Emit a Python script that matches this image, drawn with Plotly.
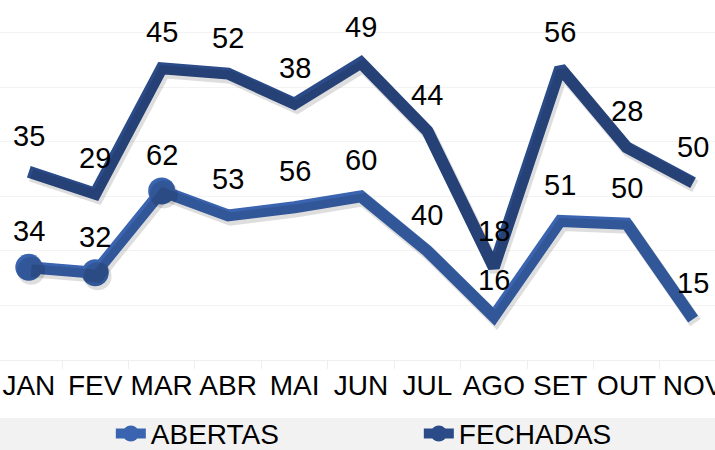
import numpy as np
import plotly.graph_objects as go

meses = ["JAN", "FEV", "MAR", "ABR", "MAI", "JUN", "JUL", "AGO", "SET", "OUT", "NOV"]
abertas = [34, 32, 62, 53, 56, 60, 40, 16, 51, 50, 15]
fechadas = [35, 29, 45, 52, 38, 49, 44, 18, 56, 28, 50]

COR_ABERTAS = "#3A64AF"
COR_FECHADAS = "#2B4B88"
SOMBRA = "rgba(0,0,0,0.13)"
FONT = "Liberation Sans, Arial, sans-serif"

# stacked positions (the chart is a stacked line chart)
topo_abertas = np.array(abertas)
topo_fechadas = topo_abertas + np.array(fechadas)

tam_marc = [27, 27, 27] + [0] * (len(meses) - 3)

XR = [-0.434, 10.33]
YR = [0, 132]
# shadow axes: same data, view shifted a few pixels down/right
XR2 = [XR[0] - 0.035, XR[1] - 0.035]
YR2 = [YR[0] + 1.3, YR[1] + 1.3]

fig = go.Figure()

# soft drop shadows
fig.add_trace(go.Scatter(
    x=meses, y=abertas, stackgroup="sh", fill="none", mode="lines+markers",
    line=dict(color=SOMBRA, width=13),
    marker=dict(color=SOMBRA, opacity=1, size=[s + 1 if s else 0 for s in tam_marc],
                line=dict(width=0)),
    xaxis="x2", yaxis="y2", showlegend=False, hoverinfo="skip",
))
fig.add_trace(go.Scatter(
    x=meses, y=fechadas, stackgroup="sh", fill="none", mode="lines",
    line=dict(color=SOMBRA, width=13),
    xaxis="x2", yaxis="y2", showlegend=False, hoverinfo="skip",
))

fig.add_trace(go.Scatter(
    x=meses, y=abertas, name="ABERTAS", stackgroup="s", fill="none",
    mode="lines+markers",
    line=dict(color=COR_ABERTAS, width=12),
    marker=dict(color=COR_ABERTAS, opacity=1, size=tam_marc, line=dict(width=0)),
    showlegend=False, hoverinfo="skip",
))
fig.add_trace(go.Scatter(
    x=meses, y=fechadas, name="FECHADAS", stackgroup="s", fill="none",
    mode="lines",
    line=dict(color=COR_FECHADAS, width=12),
    showlegend=False, hoverinfo="skip",
))

# legend entries
for nome, cor in [("ABERTAS", COR_ABERTAS), ("FECHADAS", COR_FECHADAS)]:
    fig.add_trace(go.Scatter(
        x=[None], y=[None], name=nome, mode="lines+markers",
        line=dict(color=cor, width=10),
        marker=dict(color=cor, size=16, opacity=1, line=dict(width=0)),
    ))

annotations = []
for serie, topo in [(abertas, topo_abertas), (fechadas, topo_fechadas)]:
    for m, v, t in zip(meses, serie, topo):
        annotations.append(dict(
            x=m, y=float(t), text=str(v), showarrow=False,
            yshift=36, yanchor="middle", xanchor="center",
            font=dict(family=FONT, size=29, color="black"),
        ))

fig.update_layout(
    width=715, height=450,
    margin=dict(l=0, r=0, t=0, b=90, autoexpand=False),
    paper_bgcolor="white", plot_bgcolor="white",
    annotations=annotations,
    shapes=[dict(type="rect", xref="paper", yref="paper",
                 x0=0, x1=1, y0=-0.161, y1=-0.3,
                 fillcolor="#F2F2F2", line=dict(width=0), layer="below")],
    legend=dict(orientation="h", x=0.155, xanchor="left", y=-0.205, yanchor="middle",
                font=dict(family=FONT, size=28, color="black"),
                bgcolor="rgba(0,0,0,0)", entrywidth=263, traceorder="normal"),
    xaxis=dict(type="category", categoryorder="array", categoryarray=meses,
               range=XR, showgrid=False, automargin=False,
               showline=True, linecolor="#EFEFEF", linewidth=1, tickangle=0,
               ticks="outside", tickson="boundaries", ticklen=8, tickcolor="#EFEFEF",
               tickfont=dict(family=FONT, size=28, color="black")),
    yaxis=dict(range=YR, dtick=20, showticklabels=False, automargin=False,
               showgrid=True, gridcolor="#F3F3F3", zeroline=False, showline=False),
    xaxis2=dict(type="category", categoryorder="array", categoryarray=meses,
                range=XR2, overlaying="x", visible=False, automargin=False),
    yaxis2=dict(range=YR2, overlaying="y", visible=False, automargin=False),
    showlegend=True,
)

fig.write_html("out.html", config={"displayModeBar": False},
               post_script="document.body.style.margin='0';document.body.style.overflow='hidden';")
